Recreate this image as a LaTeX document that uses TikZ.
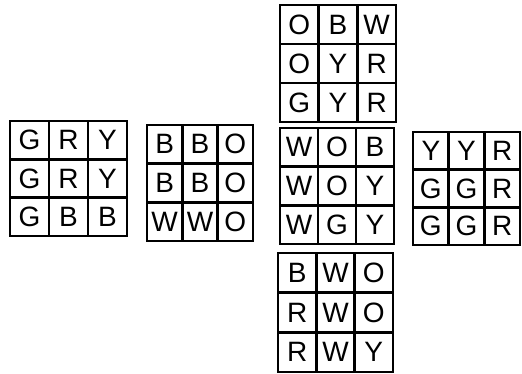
\documentclass[tikz,border=0pt]{standalone}
\usepackage{fontspec}
\setmainfont{Liberation Sans}
\tikzset{
  cell/.style={draw=black, line width=2.8pt, inner sep=0pt, outer sep=0pt,
    font=\fontsize{28}{28}\selectfont, text=black}
}
\newcommand\cubeface[6]{%
  \pgfmathsetmacro\cw{(#4-#2)/3}%
  \pgfmathsetmacro\ch{(#5-#3)/3}%
  \foreach \l [count=\i from 0] in {#6} {%
    \pgfmathtruncatemacro\rr{\i/3}%
    \pgfmathtruncatemacro\cc{mod(\i,3)}%
    \node[cell, minimum width=\cw pt, minimum height=\ch pt]
      (#1-\i) at ({#2+(\cc+0.5)*\cw},{#3+(\rr+0.5)*\ch}) {\l};
  }%
}
\begin{document}
\begin{tikzpicture}[x=1pt,y=-1pt]
  \useasboundingbox (0,0) rectangle (522,373);
  \fill[white] (0,0) rectangle (522,373);
  \cubeface{top}{280}{5}{396}{122}{O,B,W,O,Y,R,G,Y,R}
  \cubeface{front}{280}{128}{394}{244}{W,O,B,W,O,Y,W,G,Y}
  \cubeface{right}{413}{132}{520}{245}{Y,Y,R,G,G,R,G,G,R}
  \cubeface{leftA}{10}{121}{127}{236}{G,R,Y,G,R,Y,G,B,B}
  \cubeface{leftB}{147}{125}{253}{241}{B,B,O,B,B,O,W,W,O}
  \cubeface{bottom}{278}{253}{393}{372}{B,W,O,R,W,O,R,W,Y}
\end{tikzpicture}
\end{document}
